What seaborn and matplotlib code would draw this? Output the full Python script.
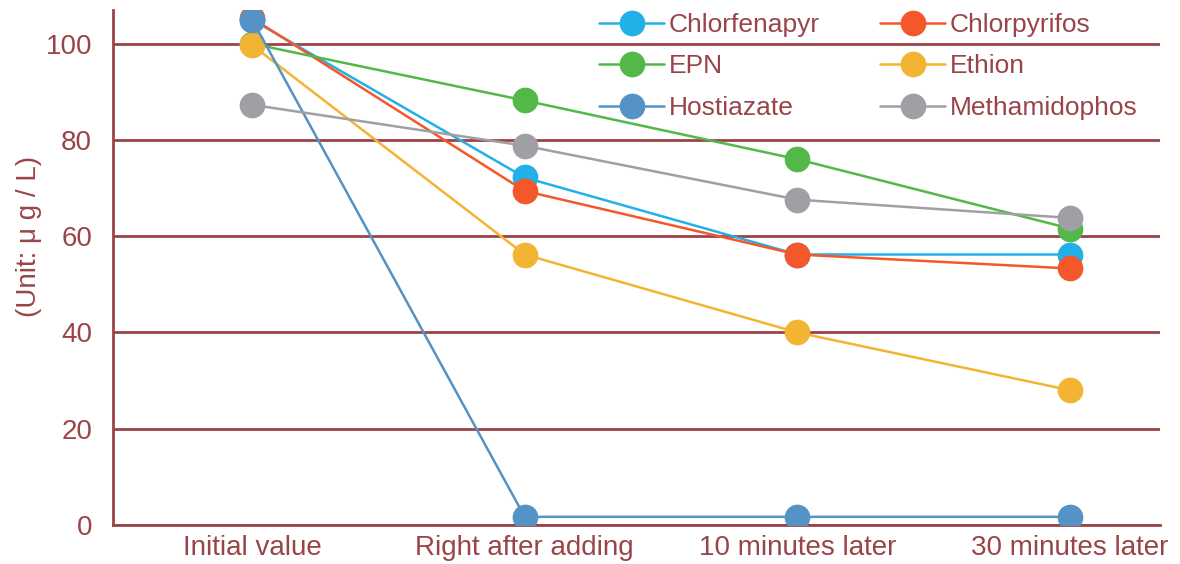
import matplotlib
matplotlib.use("Agg")
import matplotlib.pyplot as plt
import seaborn as sns
import pandas as pd

categories = ["Initial value", "Right after adding", "10 minutes later", "30 minutes later"]
series_names = ["Chlorfenapyr", "Chlorpyrifos", "EPN", "Ethion", "Hostiazate", "Methamidophos"]
chlorfenapyr = [105.0, 72.2, 56.2, 56.2]
chlorpyrifos = [105.3, 69.4, 56.2, 53.3]
epn = [100.0, 88.2, 76.0, 61.6]
ethion = [99.7, 56.2, 40.0, 28.0]
hostiazate = [105.0, 1.7, 1.7, 1.7]
methamidophos = [87.3, 78.8, 67.6, 63.8]
colors = ["#22B0E8", "#F4572A", "#52B848", "#F4B433", "#5592C6", "#A0A0A4"]
yticks = [0, 20, 40, 60, 80, 100]

values = [chlorfenapyr, chlorpyrifos, epn, ethion, hostiazate, methamidophos]
rows = []
for name, vals in zip(series_names, values):
    for c, v in zip(categories, vals):
        rows.append({"Stage": c, "Compound": name, "Value": v})
df = pd.DataFrame(rows)

sns.set_theme(style="white")
plt.rcParams["font.family"] = ["Liberation Sans", "DejaVu Sans"]

tc = "#9A4449"
fs = 20
lfs = 19
fig = plt.figure(figsize=(11.8, 5.64), dpi=100)
ax = fig.add_axes([113 / 1180, 1 - 525 / 564, (1160 - 113) / 1180, (525 - 10) / 564])

sns.lineplot(data=df, x="Stage", y="Value", hue="Compound", hue_order=series_names,
             palette=colors, marker="o", markersize=18.5, markeredgewidth=0,
             linewidth=1.8, sort=False, ax=ax, zorder=3)

ax.set_ylim(0, 107)
ax.set_xlim(-0.51, 3.33)
ax.set_yticks(yticks)
ax.yaxis.grid(True, color=tc, linewidth=2)
ax.xaxis.grid(False)
ax.set_axisbelow(True)
for s in ["top", "right"]:
    ax.spines[s].set_visible(False)
for s in ["left", "bottom"]:
    ax.spines[s].set_color(tc)
    ax.spines[s].set_linewidth(2)
ax.tick_params(axis="y", length=0, colors=tc, labelsize=fs, pad=15)
ax.tick_params(axis="x", length=0, colors=tc, labelsize=fs, pad=7)
ax.set_xlabel("")
ax.set_ylabel("(Unit: μ g / L)", color=tc, fontsize=fs)
ax.yaxis.set_label_coords(-0.068, 0.56)

handles, labels = ax.get_legend_handles_labels()
idx = {l: i for i, l in enumerate(labels)}
order = ["Chlorfenapyr", "EPN", "Hostiazate", "Chlorpyrifos", "Ethion", "Methamidophos"]
ax.legend([handles[idx[o]] for o in order], order, ncol=2, frameon=False,
          loc="upper left", bbox_to_anchor=(0.4876, 1.0195), bbox_transform=fig.transFigure,
          fontsize=lfs, labelcolor=tc, handlelength=2.46, handletextpad=0.19,
          columnspacing=2.27, labelspacing=0.67, markerscale=1.0)

fig.savefig("out.png", dpi=100)
